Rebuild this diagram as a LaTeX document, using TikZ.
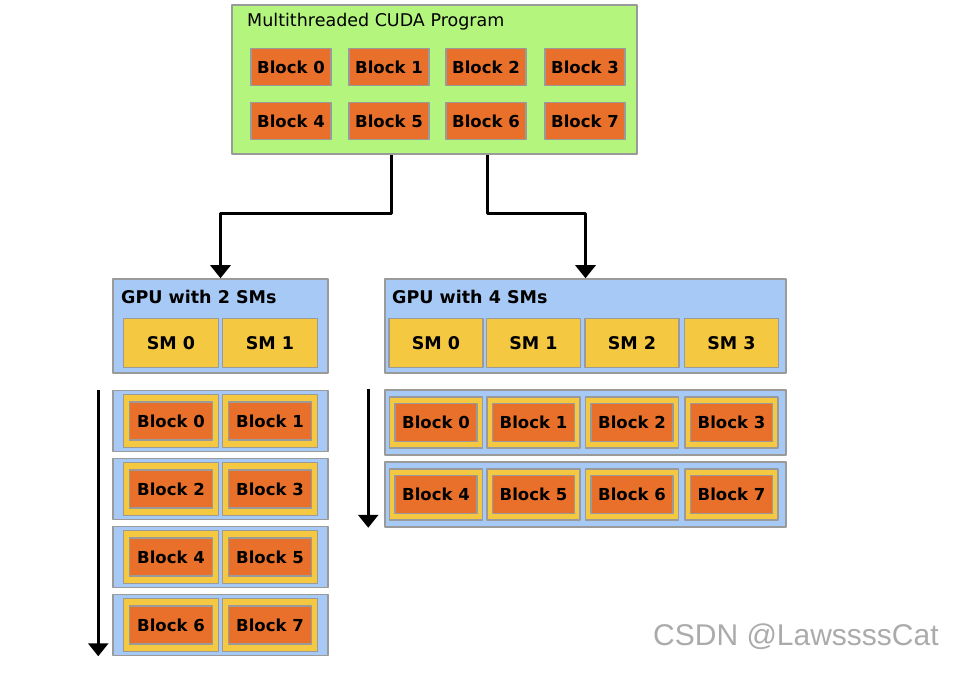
\documentclass[tikz,border=0pt]{standalone}
\usepackage{fontspec}
\setmainfont{DejaVu Sans}
\newfontfamily\wmfont{Liberation Sans}
\usetikzlibrary{arrows.meta}
\definecolor{progGreen}{HTML}{B3F57D}
\definecolor{blkOrange}{HTML}{E8702A}
\definecolor{gpuBlue}{HTML}{A6C9F5}
\definecolor{smYellow}{HTML}{F5C842}
\definecolor{edgeGray}{HTML}{9A9A9A}
\newcommand{\txt}{\fontsize{17.5}{20}\selectfont}
\newcommand{\blktxt}{\fontsize{16.5}{19}\selectfont\bfseries}
\begin{document}
\begin{tikzpicture}[x=1pt, y=-1pt, line join=round,
	box/.style={draw=edgeGray, line width=1.5pt, inner sep=0pt},
	prog/.style={box, fill=progGreen, minimum width=405pt, minimum height=149pt},
	blk/.style={box, fill=blkOrange, minimum width=80pt, minimum height=37pt, font=\blktxt},
	gpu/.style={box, fill=gpuBlue, minimum height=94pt},
	sm/.style={box, fill=smYellow, minimum height=49pt, font=\txt\bfseries},
	row/.style={box, fill=gpuBlue},
	slot/.style={box, fill=smYellow},
	title/.style={anchor=west, inner sep=0pt},
	flow/.style={line width=3pt, -{Triangle[width=20pt,length=13pt]}}]
	\useasboundingbox (0,0) rectangle (960,684);
	\node[prog] (prog) at (434.5,79.5) {};
	\node[title, font=\txt] (progT) at (247,22) {Multithreaded CUDA Program};
	\foreach \i/\x/\y in {0/291/67,1/389/67,2/486/67,3/585/67,
		4/291/121,5/389/121,6/486/121,7/585/121}
	\node[blk] (pb\i) at (\x,\y) {Block \i};
	\node[gpu, minimum width=215pt] (gpuA) at (220.5,326) {};
	\node[title, font=\txt\bfseries] (gpuAT) at (121,297) {GPU with 2 SMs};
	\foreach \i/\x in {0/171,1/270}
	\node[sm, minimum width=95pt] (smA\i) at (\x,343) {SM \i};
	\node[gpu, minimum width=401pt] (gpuB) at (585.5,326) {};
	\node[title, font=\txt\bfseries] (gpuBT) at (392,297) {GPU with 4 SMs};
	\foreach \i/\x in {0/436,1/533.5,2/632,3/731.5}
	\node[sm, minimum width=94pt] (smB\i) at (\x,343) {SM \i};
	\draw[flow] ([xshift=2pt]prog.south -| pb1) -- ++(0,59) -| (gpuA.north);
	\draw[flow] ([xshift=1pt]prog.south -| pb2) -- ++(0,59) -| (gpuB.north);
	\foreach \r/\y/\a/\b in {1/421/0/1,2/489/2/3,3/557/4/5,4/625/6/7}{
		\node[row, minimum width=215pt, minimum height=61pt] (ra\r) at (220.5,\y) {};
		\node[slot, minimum width=95pt, minimum height=53pt] (ya\a) at (171,\y) {};
		\node[slot, minimum width=95pt, minimum height=53pt] (ya\b) at (270,\y) {};
		\node[blk, minimum width=83pt, minimum height=38pt] (ba\a) at (171,\y) {Block \a};
		\node[blk, minimum width=83pt, minimum height=38pt] (ba\b) at (270,\y) {Block \b};
	}
	\foreach \r/\y in {0/422.5,1/494.5}{
		\node[row, minimum width=401pt, minimum height=65pt] (rb\r) at (585.5,\y) {};
		\foreach \c/\x in {0/436,1/533.5,2/632,3/731.5}{
			\pgfmathtruncatemacro{\n}{4*\r+\c}
			\node[slot, minimum width=93pt, minimum height=51pt] (yb\n) at (\x,\y) {};
			\node[blk, minimum width=82pt, minimum height=38pt] (bb\n) at (\x,\y) {Block \n};
		}
	}
	\draw[flow] ([xshift=-14pt]ra1.north west) -- ([xshift=-14pt]ra4.south west);
	\draw[flow] ([xshift=-16pt]rb0.north west) -- ([xshift=-16pt]rb1.south west);
	\node[title, text=black!33, font=\wmfont\fontsize{30}{32}\selectfont] (wm) at (653,637) {CSDN @LawssssCat};
\end{tikzpicture}
\end{document}
